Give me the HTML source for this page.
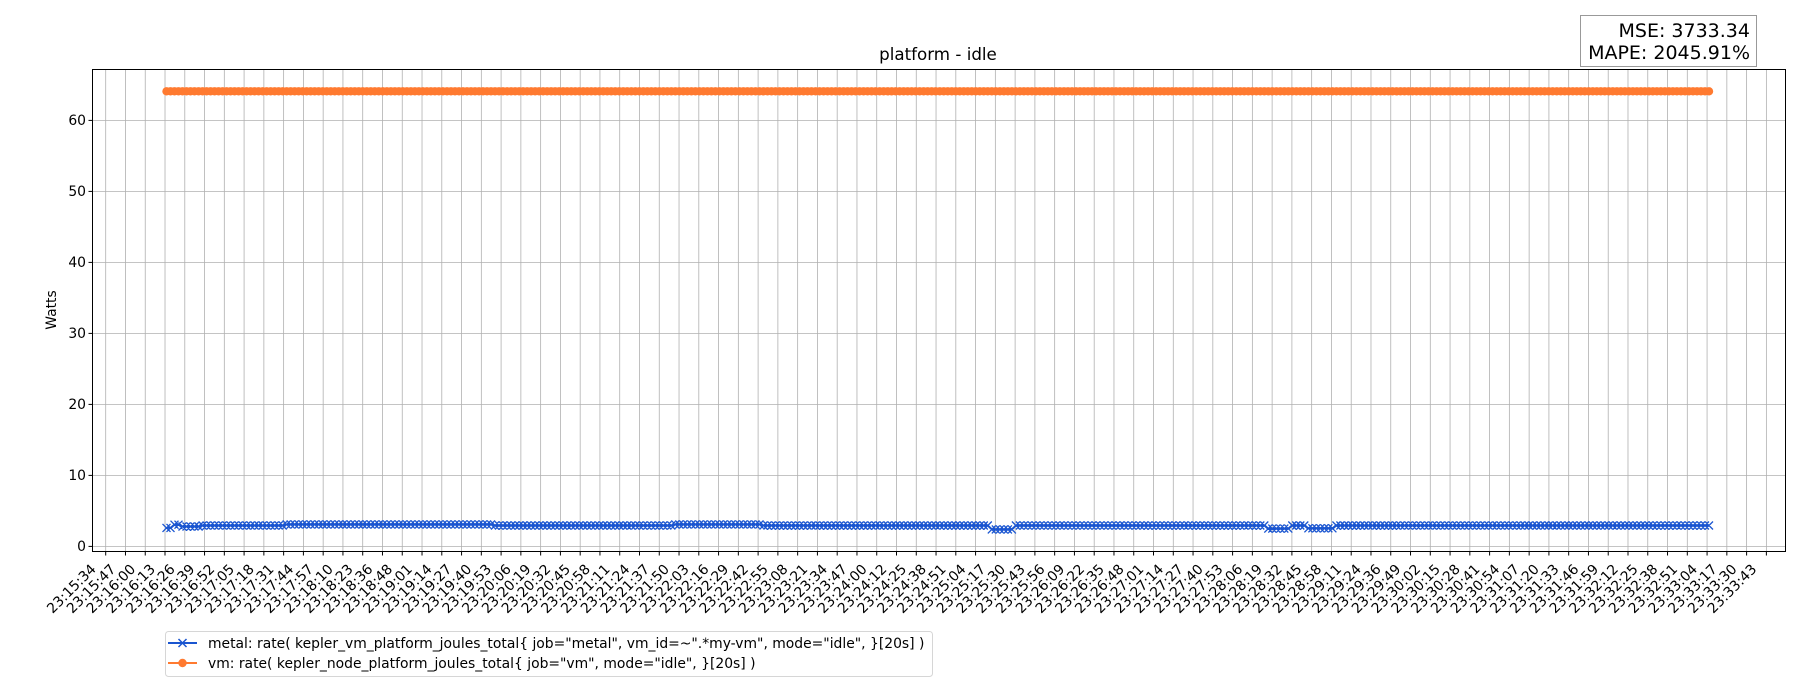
<!DOCTYPE html>
<html><head><meta charset="utf-8">
<style>
html,body{margin:0;padding:0;background:#fff;}
svg{display:block;font-family:"DejaVu Sans","Liberation Sans",sans-serif;}
</style></head>
<body>
<svg id="s" width="1800" height="700" viewBox="0 0 1800 700" xmlns="http://www.w3.org/2000/svg">
<rect width="1800" height="700" fill="#fff"/>
<g id="grid" stroke="#b0b0b0" stroke-width="0.8"></g>
<g id="series"></g>
<rect x="92.5" y="69.5" width="1693" height="482" fill="none" stroke="#000" stroke-width="1"/>
<g id="ticks" stroke="#000" stroke-width="1"></g>
<g font-size="13.9" fill="#000" text-anchor="end">
<text x="86" y="551">0</text>
<text x="86" y="480">10</text>
<text x="86" y="409">20</text>
<text x="86" y="338">30</text>
<text x="86" y="267">40</text>
<text x="86" y="196">50</text>
<text x="86" y="125">60</text>
</g>
<text transform="translate(56,310) rotate(-90)" font-size="13.9" text-anchor="middle">Watts</text>
<text x="938" y="60" font-size="16.7" text-anchor="middle">platform - idle</text>
<rect x="1580.5" y="15.5" width="176" height="51" fill="#fff" stroke="#999" stroke-width="1"/>
<text x="1750" y="37" font-size="19" text-anchor="end">MSE: 3733.34</text>
<text x="1750" y="59" font-size="19" text-anchor="end">MAPE: 2045.91%</text>
<g id="xl" font-size="13.9" text-anchor="end">
<text>23:15:34</text><text>23:15:47</text><text>23:16:00</text><text>23:16:13</text><text>23:16:26</text><text>23:16:39</text><text>23:16:52</text><text>23:17:05</text><text>23:17:18</text><text>23:17:31</text><text>23:17:44</text><text>23:17:57</text><text>23:18:10</text><text>23:18:23</text><text>23:18:36</text><text>23:18:48</text><text>23:19:01</text><text>23:19:14</text><text>23:19:27</text><text>23:19:40</text><text>23:19:53</text><text>23:20:06</text><text>23:20:19</text><text>23:20:32</text><text>23:20:45</text><text>23:20:58</text><text>23:21:11</text><text>23:21:24</text><text>23:21:37</text><text>23:21:50</text><text>23:22:03</text><text>23:22:16</text><text>23:22:29</text><text>23:22:42</text><text>23:22:55</text><text>23:23:08</text><text>23:23:21</text><text>23:23:34</text><text>23:23:47</text><text>23:24:00</text><text>23:24:12</text><text>23:24:25</text><text>23:24:38</text><text>23:24:51</text><text>23:25:04</text><text>23:25:17</text><text>23:25:30</text><text>23:25:43</text><text>23:25:56</text><text>23:26:09</text><text>23:26:22</text><text>23:26:35</text><text>23:26:48</text><text>23:27:01</text><text>23:27:14</text><text>23:27:27</text><text>23:27:40</text><text>23:27:53</text><text>23:28:06</text><text>23:28:19</text><text>23:28:32</text><text>23:28:45</text><text>23:28:58</text><text>23:29:11</text><text>23:29:24</text><text>23:29:36</text><text>23:29:49</text><text>23:30:02</text><text>23:30:15</text><text>23:30:28</text><text>23:30:41</text><text>23:30:54</text><text>23:31:07</text><text>23:31:20</text><text>23:31:33</text><text>23:31:46</text><text>23:31:59</text><text>23:32:12</text><text>23:32:25</text><text>23:32:38</text><text>23:32:51</text><text>23:33:04</text><text>23:33:17</text><text>23:33:30</text><text>23:33:43</text>
</g>
<rect x="165.5" y="631.5" width="767" height="45" rx="3" fill="#fff" stroke="#d6d6d6" stroke-width="1"/>
<line x1="168" y1="643" x2="197" y2="643" stroke="#1a55d0" stroke-width="2"/>
<path d="M178.5,639 l8,8 M186.5,639 l-8,8" stroke="#1a55d0" stroke-width="1.5"/>
<line x1="168" y1="663" x2="197" y2="663" stroke="#ff7a30" stroke-width="2"/>
<circle cx="182.5" cy="663" r="4.2" fill="#ff7a30"/>
<text x="208" y="648" font-size="13.9">metal: rate( kepler_vm_platform_joules_total{ job="metal", vm_id=~".*my-vm", mode="idle", }[20s] )</text>
<text x="208" y="668" font-size="13.9">vm: rate( kepler_node_platform_joules_total{ job="vm", mode="idle", }[20s] )</text>
</svg>
<script>
(function(){
var NS="http://www.w3.org/2000/svg";
function el(t,a,p){var e=document.createElementNS(NS,t);for(var k in a)e.setAttribute(k,a[k]);p.appendChild(e);return e;}
var grid=document.getElementById('grid'),ticks=document.getElementById('ticks'),ser=document.getElementById('series');
var x0=105.7,dx=19.77;
function Y(v){return 546.4-v*7.1;}
for(var i=0;i<85;i++){var x=x0+i*dx;
 el('line',{x1:x,y1:70,x2:x,y2:551},grid);
 el('line',{x1:x,y1:551,x2:x,y2:555.5},ticks);}
for(var v=0;v<=60;v+=10){var y=Y(v);
 el('line',{x1:93,y1:y,x2:1785,y2:y},grid);
 el('line',{x1:88.5,y1:y,x2:92.5,y2:y},ticks);}
var labs=document.getElementById('xl').children;
for(var i=0;i<labs.length;i++){var x=x0+i*dx-9;labs[i].setAttribute('transform','translate('+x+',570) rotate(-45)');}
var xs=166.5,xe=1709,n=386,st=(xe-xs)/(n-1);
function val(x){
 if(x<172)return 2.6; if(x<180)return 3.05; if(x<200)return 2.8;
 if(x<285)return 2.95; if(x<495)return 3.1; if(x<675)return 2.95;
 if(x<760)return 3.1; if(x<985)return 2.95; if(x>=988&&x<1012)return 2.4;
 if(x<1265)return 2.95; if(x<1290)return 2.5; if(x<1305)return 2.95;
 if(x<1335)return 2.55; return 2.95;}
var ppts=[],bpts=[];
for(var i=0;i<n;i++){var x=xs+i*st;ppts.push(x.toFixed(1)+','+Y(64.1).toFixed(1));bpts.push(x.toFixed(1)+','+Y(val(x)).toFixed(1));}
el('polyline',{points:bpts.join(' '),fill:'none',stroke:'#1a55d0','stroke-width':2},ser);
var d='';for(var i=0;i<n;i++){var p=bpts[i].split(',');var x=+p[0],y=+p[1];d+='M'+(x-4)+','+(y-4)+'l8,8M'+(x+4)+','+(y-4)+'l-8,8';}
el('path',{d:d,stroke:'#1a55d0','stroke-width':1.3,fill:'none'},ser);
el('polyline',{points:ppts.join(' '),fill:'none',stroke:'#ff7a30','stroke-width':2},ser);
var g=el('g',{fill:'#ff7a30'},ser);
for(var i=0;i<n;i++){var p=ppts[i].split(',');el('circle',{cx:p[0],cy:p[1],r:4.2},g);}
})();
</script>
</body></html>
